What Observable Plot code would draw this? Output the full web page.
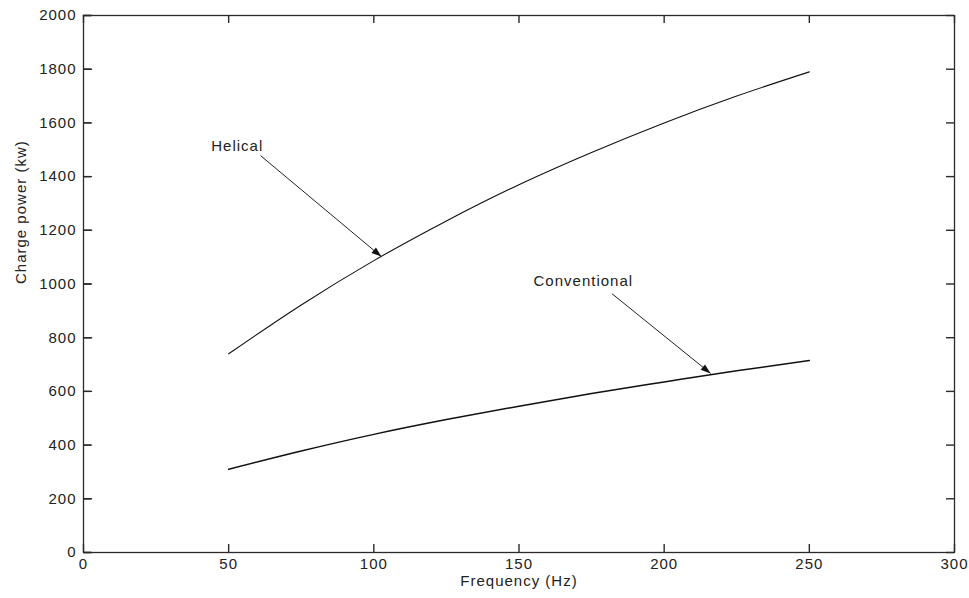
<!DOCTYPE html>
<html>
<head>
<meta charset="utf-8">
<script src="https://cdn.jsdelivr.net/npm/d3@7"></script>
<script src="https://cdn.jsdelivr.net/npm/@observablehq/plot@0.6"></script>
<style>
  html, body { margin: 0; padding: 0; background: #fff; }
</style>
</head>
<body>
<div id="chart"></div>
<script>
// Data
const frequency = [50, 75, 100, 125, 150, 175, 200, 225, 250];
const helical = [740, 922, 1087, 1235, 1370, 1490, 1600, 1700, 1790];
const conventional = [310, 378, 440, 495, 545, 592, 635, 677, 715];

const xTicks = [0, 50, 100, 150, 200, 250, 300];
const yTicks = [0, 200, 400, 600, 800, 1000, 1200, 1400, 1600, 1800, 2000];

const annotationLabels = ["Helical", "Conventional"];
const annotationTextX = [44, 155];
const annotationTextY = [1512, 1009];
const arrowFromX = [61, 182];
const arrowFromY = [1478, 964];
const arrowToX = [102.6, 216];
const arrowToY = [1102, 667];

const xLabel = "Frequency (Hz)";
const yLabel = "Charge power (kw)";

const helicalData = frequency.map((f, i) => ({f, p: helical[i]}));
const conventionalData = frequency.map((f, i) => ({f, p: conventional[i]}));
const notes = annotationLabels.map((t, i) => ({
  t, tx: annotationTextX[i], ty: annotationTextY[i],
  x1: arrowFromX[i], y1: arrowFromY[i], x2: arrowToX[i], y2: arrowToY[i]
}));

const W = 969, H = 598;
const mL = 83, mR = 15, mT = 15, mB = 46;
const plotW = W - mL - mR, plotH = H - mT - mB;
const xMax = 300, yMax = 2000;
const tickLen = 8;
const axisColor = "#2a2a2a";
const tickStyle = {stroke: axisColor, strokeWidth: 1.4};
const tickShape = {draw(context, l) { context.moveTo(0, 0); context.lineTo(0, -l); }};

const chart = Plot.plot({
  width: W,
  height: H,
  marginLeft: mL,
  marginRight: mR,
  marginTop: mT,
  marginBottom: mB,
  style: {fontFamily: "'Liberation Sans', Arial, sans-serif", fontSize: "15px", letterSpacing: "1px", color: "#222", background: "#fff"},
  x: {domain: [0, xMax]},
  y: {domain: [0, yMax]},
  marks: [
    // tick labels
    Plot.axisX(xTicks, {anchor: "bottom", tickSize: 0, tickPadding: 6, tickFormat: d => String(d), label: null, stroke: "none"}),
    Plot.axisY(yTicks, {anchor: "left", tickSize: 0, tickPadding: 7, tickFormat: d => String(d), label: null, stroke: "none"}),
    Plot.text([xLabel], {frameAnchor: "bottom", dy: 29, text: d => d, lineAnchor: "middle"}),
    Plot.text([yLabel], {frameAnchor: "left", dx: -62, rotate: -90, text: d => d, lineAnchor: "middle"}),
    // data curves and annotations
    Plot.line(helicalData, {x: "f", y: "p", stroke: "#111", strokeWidth: 1.1, curve: "monotone-x"}),
    Plot.line(conventionalData, {x: "f", y: "p", stroke: "#111", strokeWidth: 1.5, curve: "monotone-x"}),
    Plot.link(notes, {x1: "x1", y1: "y1", x2: "x2", y2: "y2", stroke: "#222", strokeWidth: 1, markerEnd: "arrow"}),
    Plot.text(notes, {x: "tx", y: "ty", text: "t", textAnchor: "start", lineAnchor: "middle"}),
    // box and inward ticks on all four sides (MATLAB style), drawn last
    Plot.frame({stroke: axisColor, strokeWidth: 1.3}),
    Plot.tickX(xTicks, {x: d => d, insetTop: plotH - tickLen, ...tickStyle}),
    Plot.tickX(xTicks, {x: d => d, insetBottom: plotH - tickLen, ...tickStyle}),
    Plot.tickY(yTicks, {y: d => d, insetLeft: plotW - tickLen, ...tickStyle}),
    // left ticks (drawn two ways so that they always show)
    Plot.ruleY(yTicks, {y: d => d, x1: 0, x2: xMax * tickLen / plotW, ...tickStyle}),
    Plot.vector(yTicks, {y: d => d, frameAnchor: "left", rotate: 90, length: tickLen, anchor: "start", shape: tickShape, ...tickStyle})
  ]
});

// Turn the open arrow markers into filled triangular heads (MATLAB style)
chart.querySelectorAll("marker").forEach(m => {
  m.setAttribute("viewBox", "-11 -5.5 11 11");
  m.setAttribute("markerWidth", "11");
  m.setAttribute("markerHeight", "11");
  m.setAttribute("markerUnits", "userSpaceOnUse");
  m.setAttribute("fill", "#111");
  m.setAttribute("stroke", "none");
  const p = m.querySelector("path");
  if (p) p.setAttribute("d", "M-10,-3.5L0,0L-10,3.5Z");
});

document.getElementById("chart").appendChild(chart);
</script>
</body>
</html>
